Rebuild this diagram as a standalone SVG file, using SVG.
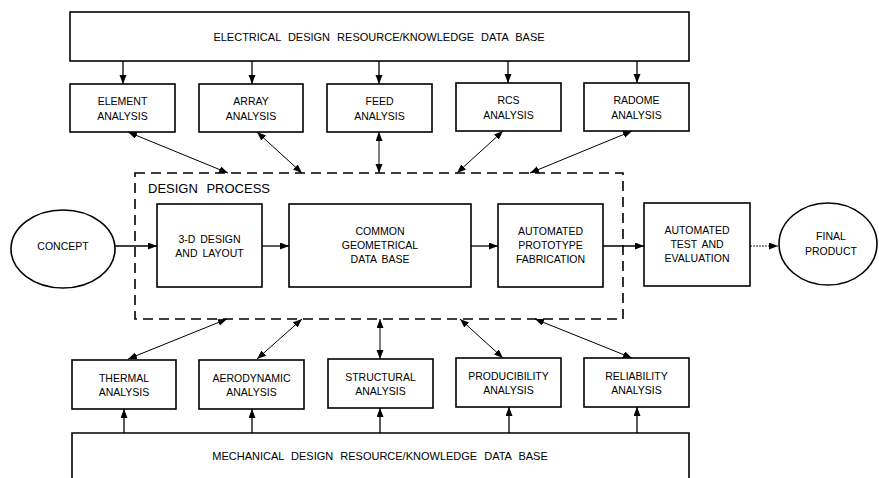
<svg xmlns="http://www.w3.org/2000/svg" width="879" height="478" viewBox="0 0 879 478">
<style>
  .box { fill: #fff; stroke: #000; stroke-width: 1.6; }
  .dash { fill: none; stroke: #000; stroke-width: 1.6; stroke-dasharray: 10 6; }
  .t { font-family: "Liberation Sans", Arial, sans-serif; font-size: 10.5px; fill: #000; text-anchor: middle; word-spacing: 2px; }
  .big { font-family: "Liberation Sans", Arial, sans-serif; font-size: 11px; fill: #000; text-anchor: middle; word-spacing: 4px; }
  .title { font-family: "Liberation Sans", Arial, sans-serif; font-size: 13px; fill: #000; word-spacing: 5px; }
  .c { fill: none; stroke: #000; stroke-width: 1.3; marker-end: url(#ah); }
  .d { fill: none; stroke: #000; stroke-width: 1; marker-start: url(#ah); marker-end: url(#ah); }
  .dot { fill: none; stroke: #000; stroke-width: 0.9; stroke-dasharray: 2 1; marker-end: url(#ah); }
</style>
<defs>
  <marker id="ah" markerUnits="userSpaceOnUse" markerWidth="10" markerHeight="8" refX="9" refY="3.5" orient="auto-start-reverse">
    <path d="M0,0 L9,3.5 L0,7 z" fill="#000"/>
  </marker>
</defs>
<rect width="879" height="478" fill="#fff"/>

<g id="connectors">
  <line class="c" x1="123" y1="61" x2="123" y2="84"/>
  <line class="c" x1="252" y1="61" x2="252" y2="84"/>
  <line class="c" x1="379" y1="61" x2="379" y2="84"/>
  <line class="c" x1="508" y1="61" x2="508" y2="83"/>
  <line class="c" x1="637" y1="61" x2="637" y2="83"/>

  <line class="d" x1="128" y1="132" x2="228" y2="173"/>
  <line class="d" x1="257" y1="132" x2="302" y2="173"/>
  <line class="d" x1="379" y1="132" x2="379" y2="173"/>
  <line class="d" x1="503" y1="131" x2="457" y2="173"/>
  <line class="d" x1="632" y1="131" x2="530" y2="173"/>

  <line class="c" x1="115" y1="246" x2="157" y2="246"/>
  <line class="c" x1="262" y1="246" x2="289" y2="246"/>
  <line class="c" x1="471" y1="246" x2="498" y2="246"/>
  <line class="c" x1="603" y1="246" x2="644" y2="246"/>
  <line class="dot" x1="750" y1="246" x2="778" y2="246"/>

  <line class="d" x1="227" y1="319" x2="128" y2="359"/>
  <line class="d" x1="302" y1="319" x2="257" y2="359"/>
  <line class="d" x1="380" y1="319" x2="380" y2="359"/>
  <line class="d" x1="460" y1="319" x2="503" y2="358"/>
  <line class="d" x1="535" y1="319" x2="632" y2="358"/>

  <line class="c" x1="124" y1="433" x2="124" y2="409"/>
  <line class="c" x1="252" y1="433" x2="252" y2="409"/>
  <line class="c" x1="380" y1="433" x2="380" y2="408"/>
  <line class="c" x1="509" y1="433" x2="509" y2="407"/>
  <line class="c" x1="637" y1="433" x2="637" y2="407"/>
</g>

<g id="electrical-db">
  <rect class="box" x="70" y="12" width="619" height="49"/>
  <text class="big" x="379" y="41">ELECTRICAL DESIGN RESOURCE/KNOWLEDGE DATA BASE</text>
</g>

<g id="element-analysis">
  <rect class="box" x="70" y="84" width="105" height="48"/>
  <text class="t" x="122.5" y="105">ELEMENT</text>
  <text class="t" x="122.5" y="120">ANALYSIS</text>
</g>
<g id="array-analysis">
  <rect class="box" x="199" y="84" width="104" height="48"/>
  <text class="t" x="251" y="105">ARRAY</text>
  <text class="t" x="251" y="120">ANALYSIS</text>
</g>
<g id="feed-analysis">
  <rect class="box" x="327" y="84" width="105" height="48"/>
  <text class="t" x="379.5" y="105">FEED</text>
  <text class="t" x="379.5" y="120">ANALYSIS</text>
</g>
<g id="rcs-analysis">
  <rect class="box" x="456" y="83" width="105" height="48"/>
  <text class="t" x="508.5" y="104">RCS</text>
  <text class="t" x="508.5" y="119">ANALYSIS</text>
</g>
<g id="radome-analysis">
  <rect class="box" x="584" y="83" width="105" height="48"/>
  <text class="t" x="636.5" y="104">RADOME</text>
  <text class="t" x="636.5" y="119">ANALYSIS</text>
</g>

<g id="design-process">
  <rect class="dash" x="135" y="173" width="488" height="146"/>
  <text class="title" x="148" y="193">DESIGN PROCESS</text>
</g>

<g id="concept">
  <ellipse class="box" cx="63" cy="249" rx="52" ry="39"/>
  <text class="t" x="63" y="250">CONCEPT</text>
</g>

<g id="design-layout">
  <rect class="box" x="157" y="204" width="105" height="83"/>
  <text class="t" x="209.5" y="243">3-D DESIGN</text>
  <text class="t" x="209.5" y="257">AND LAYOUT</text>
</g>

<g id="common-db">
  <rect class="box" x="289" y="204" width="182" height="83"/>
  <text class="t" x="380" y="235">COMMON</text>
  <text class="t" x="380" y="249">GEOMETRICAL</text>
  <text class="t" x="380" y="263">DATA BASE</text>
</g>

<g id="prototype-fabrication">
  <rect class="box" x="498" y="204" width="105" height="83"/>
  <text class="t" x="550.5" y="235">AUTOMATED</text>
  <text class="t" x="550.5" y="249">PROTOTYPE</text>
  <text class="t" x="550.5" y="263">FABRICATION</text>
</g>

<g id="test-evaluation">
  <rect class="box" x="644" y="203" width="106" height="83"/>
  <text class="t" x="697" y="234">AUTOMATED</text>
  <text class="t" x="697" y="248">TEST AND</text>
  <text class="t" x="697" y="262">EVALUATION</text>
</g>

<g id="final-product">
  <ellipse class="box" cx="828" cy="244" rx="49" ry="41"/>
  <text class="t" x="831" y="240">FINAL</text>
  <text class="t" x="831" y="255">PRODUCT</text>
</g>

<g id="thermal-analysis">
  <rect class="box" x="72" y="360" width="104" height="49"/>
  <text class="t" x="124" y="382">THERMAL</text>
  <text class="t" x="124" y="396">ANALYSIS</text>
</g>
<g id="aerodynamic-analysis">
  <rect class="box" x="199" y="360" width="105" height="49"/>
  <text class="t" x="251.5" y="382">AERODYNAMIC</text>
  <text class="t" x="251.5" y="396">ANALYSIS</text>
</g>
<g id="structural-analysis">
  <rect class="box" x="328" y="359" width="105" height="49"/>
  <text class="t" x="380.5" y="381">STRUCTURAL</text>
  <text class="t" x="380.5" y="395">ANALYSIS</text>
</g>
<g id="producibility-analysis">
  <rect class="box" x="456" y="358" width="105" height="49"/>
  <text class="t" x="508.5" y="380">PRODUCIBILITY</text>
  <text class="t" x="508.5" y="394">ANALYSIS</text>
</g>
<g id="reliability-analysis">
  <rect class="box" x="584" y="358" width="105" height="49"/>
  <text class="t" x="636.5" y="380">RELIABILITY</text>
  <text class="t" x="636.5" y="394">ANALYSIS</text>
</g>

<g id="mechanical-db">
  <path class="box" d="M72,490 V433 H689 V490"/>
  <text class="big" x="380" y="460">MECHANICAL DESIGN RESOURCE/KNOWLEDGE DATA BASE</text>
</g>
</svg>
